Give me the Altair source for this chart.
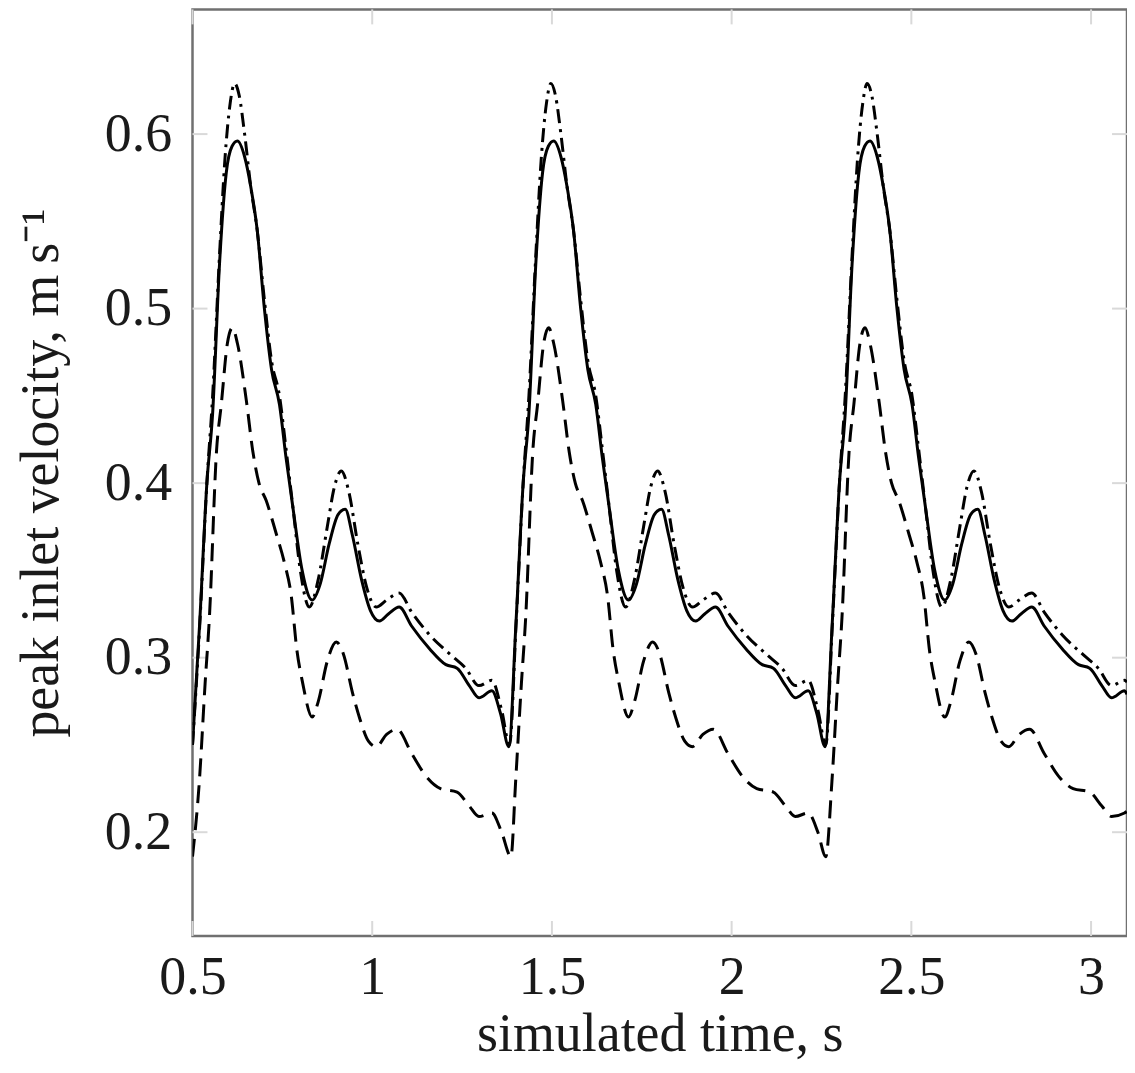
import altair as alt
import pandas as pd

# ---- data ----
solid_t = [0.500, 0.520, 0.540, 0.556, 0.575, 0.594, 0.610, 0.625, 0.645, 0.662, 0.680, 0.700,
           0.720, 0.742, 0.760, 0.780, 0.805, 0.833, 0.855, 0.880, 0.905, 0.925, 0.945, 0.970,
           0.995, 1.020, 1.045, 1.075, 1.110, 1.160, 1.205, 1.236, 1.270, 1.297, 1.333, 1.357,
           1.380, 1.400, 1.420, 1.436, 1.455, 1.474, 1.490, 1.505, 1.525, 1.542, 1.560, 1.580,
           1.600, 1.622, 1.640, 1.660, 1.685, 1.713, 1.735, 1.760, 1.785, 1.805, 1.825, 1.850,
           1.875, 1.900, 1.925, 1.955, 1.990, 2.040, 2.085, 2.116, 2.150, 2.177, 2.213, 2.237,
           2.260, 2.280, 2.300, 2.316, 2.335, 2.354, 2.370, 2.385, 2.405, 2.422, 2.440, 2.460,
           2.480, 2.502, 2.520, 2.540, 2.565, 2.593, 2.615, 2.640, 2.665, 2.685, 2.705, 2.730,
           2.755, 2.780, 2.805, 2.835, 2.870, 2.920, 2.965, 2.996, 3.030, 3.057, 3.093, 3.100]
solid_v = [0.250, 0.320, 0.400, 0.440, 0.525, 0.578, 0.593, 0.596, 0.587, 0.570, 0.545, 0.500,
           0.465, 0.445, 0.415, 0.385, 0.350, 0.333, 0.342, 0.365, 0.382, 0.385, 0.370, 0.345,
           0.327, 0.321, 0.325, 0.329, 0.318, 0.305, 0.296, 0.294, 0.284, 0.277, 0.281, 0.268,
           0.249, 0.320, 0.400, 0.440, 0.525, 0.578, 0.593, 0.596, 0.587, 0.570, 0.545, 0.500,
           0.465, 0.445, 0.415, 0.385, 0.350, 0.333, 0.342, 0.365, 0.382, 0.385, 0.370, 0.345,
           0.327, 0.321, 0.325, 0.329, 0.318, 0.305, 0.296, 0.294, 0.284, 0.277, 0.281, 0.268,
           0.249, 0.320, 0.400, 0.440, 0.525, 0.578, 0.593, 0.596, 0.587, 0.570, 0.545, 0.500,
           0.465, 0.445, 0.415, 0.385, 0.350, 0.333, 0.342, 0.365, 0.382, 0.385, 0.370, 0.345,
           0.327, 0.321, 0.325, 0.329, 0.318, 0.305, 0.296, 0.294, 0.284, 0.277, 0.281, 0.279]

dashdot_t = [0.500, 0.520, 0.540, 0.556, 0.575, 0.590, 0.605, 0.617, 0.630, 0.645, 0.662, 0.680,
             0.700, 0.720, 0.742, 0.760, 0.780, 0.800, 0.825, 0.850, 0.875, 0.895, 0.914, 0.935,
             0.960, 0.985, 1.011, 1.040, 1.075, 1.110, 1.160, 1.222, 1.260, 1.297, 1.333, 1.360,
             1.382, 1.400, 1.420, 1.436, 1.455, 1.470, 1.485, 1.497, 1.510, 1.525, 1.542, 1.560,
             1.580, 1.600, 1.622, 1.640, 1.660, 1.680, 1.705, 1.730, 1.755, 1.775, 1.794, 1.815,
             1.840, 1.865, 1.891, 1.920, 1.955, 1.990, 2.040, 2.102, 2.140, 2.177, 2.213, 2.240,
             2.262, 2.280, 2.300, 2.316, 2.335, 2.350, 2.365, 2.377, 2.390, 2.405, 2.422, 2.440,
             2.460, 2.480, 2.502, 2.520, 2.540, 2.560, 2.585, 2.610, 2.635, 2.655, 2.674, 2.695,
             2.720, 2.745, 2.771, 2.800, 2.835, 2.870, 2.920, 2.982, 3.020, 3.057, 3.093, 3.100]
dashdot_v = [0.250, 0.318, 0.400, 0.450, 0.530, 0.585, 0.618, 0.629, 0.622, 0.600, 0.570, 0.545,
             0.505, 0.470, 0.450, 0.420, 0.385, 0.350, 0.329, 0.345, 0.375, 0.398, 0.407, 0.395,
             0.365, 0.340, 0.329, 0.333, 0.337, 0.326, 0.313, 0.301, 0.294, 0.284, 0.287, 0.270,
             0.250, 0.318, 0.400, 0.450, 0.530, 0.585, 0.618, 0.629, 0.622, 0.600, 0.570, 0.545,
             0.505, 0.470, 0.450, 0.420, 0.385, 0.350, 0.329, 0.345, 0.375, 0.398, 0.407, 0.395,
             0.365, 0.340, 0.329, 0.333, 0.337, 0.326, 0.313, 0.301, 0.294, 0.284, 0.287, 0.270,
             0.250, 0.318, 0.400, 0.450, 0.530, 0.585, 0.618, 0.629, 0.622, 0.600, 0.570, 0.545,
             0.505, 0.470, 0.450, 0.420, 0.385, 0.350, 0.329, 0.345, 0.375, 0.398, 0.407, 0.395,
             0.365, 0.340, 0.329, 0.333, 0.337, 0.326, 0.313, 0.301, 0.294, 0.284, 0.287, 0.286]

dashed_t = [0.500, 0.519, 0.535, 0.547, 0.567, 0.580, 0.597, 0.611, 0.625, 0.650, 0.668, 0.685,
            0.705, 0.733, 0.755, 0.775, 0.790, 0.806, 0.833, 0.850, 0.875, 0.900, 0.920, 0.945,
            0.964, 0.990, 1.011, 1.040, 1.069, 1.110, 1.150, 1.190, 1.236, 1.270, 1.297, 1.333,
            1.360, 1.386, 1.399, 1.415, 1.427, 1.447, 1.460, 1.477, 1.491, 1.505, 1.530, 1.548,
            1.565, 1.585, 1.613, 1.635, 1.655, 1.670, 1.686, 1.713, 1.730, 1.755, 1.780, 1.800,
            1.825, 1.844, 1.870, 1.891, 1.920, 1.949, 1.990, 2.030, 2.070, 2.116, 2.150, 2.177,
            2.213, 2.240, 2.262, 2.279, 2.295, 2.307, 2.327, 2.340, 2.357, 2.371, 2.385, 2.410,
            2.428, 2.445, 2.465, 2.493, 2.515, 2.535, 2.550, 2.566, 2.593, 2.610, 2.635, 2.660,
            2.680, 2.705, 2.724, 2.750, 2.771, 2.800, 2.829, 2.870, 2.910, 2.950, 2.996, 3.030,
            3.057, 3.093, 3.100]
dashed_v = [0.186, 0.229, 0.285, 0.323, 0.419, 0.445, 0.480, 0.489, 0.480, 0.447, 0.418, 0.400,
            0.390, 0.371, 0.355, 0.335, 0.305, 0.286, 0.266, 0.275, 0.298, 0.309, 0.302, 0.280,
            0.266, 0.252, 0.249, 0.256, 0.259, 0.245, 0.232, 0.225, 0.223, 0.215, 0.209, 0.211,
            0.200, 0.186, 0.229, 0.285, 0.323, 0.419, 0.445, 0.480, 0.489, 0.480, 0.447, 0.418,
            0.400, 0.390, 0.371, 0.355, 0.335, 0.305, 0.286, 0.266, 0.275, 0.298, 0.309, 0.302,
            0.280, 0.266, 0.252, 0.249, 0.256, 0.259, 0.245, 0.232, 0.225, 0.223, 0.215, 0.209,
            0.211, 0.200, 0.186, 0.229, 0.285, 0.323, 0.419, 0.445, 0.480, 0.489, 0.480, 0.447,
            0.418, 0.400, 0.390, 0.371, 0.355, 0.335, 0.305, 0.286, 0.266, 0.275, 0.298, 0.309,
            0.302, 0.280, 0.266, 0.252, 0.249, 0.256, 0.259, 0.245, 0.232, 0.225, 0.223, 0.215,
            0.209, 0.211, 0.212]

x_ticks = [0.5, 1.0, 1.5, 2.0, 2.5, 3.0]
y_ticks = [0.2, 0.3, 0.4, 0.5, 0.6]

W, H = 937, 929
FONT = "Liberation Serif"

xs = alt.Scale(domain=[0.5, 3.1], nice=False, zero=False)
ys = alt.Scale(domain=[0.14057, 0.67143], nice=False, zero=False)

x_axis = alt.Axis(values=x_ticks, format="~g", grid=False, ticks=False, domain=False,
                  labelFont=FONT, labelFontSize=54, labelColor="#1a1a1a", labelPadding=15,
                  title="simulated time, s", titleFont=FONT, titleFontSize=54,
                  titleFontWeight="normal", titleColor="#1a1a1a",
                  titleBaseline="alphabetic", titleY=115, labelFlush=False)
y_axis = alt.Axis(values=y_ticks, format=".1f", grid=False, ticks=False, domain=False,
                  labelFont=FONT, labelFontSize=54, labelColor="#1a1a1a", labelPadding=21,
                  title="peak inlet velocity, m\u2009s\u207b\u00b9", titleFont=FONT,
                  titleFontSize=54, titleFontWeight="normal", titleColor="#1a1a1a",
                  titleAngle=270, titleBaseline="alphabetic", titleX=-135, titleY=H / 2,
                  labelFlush=False)

df_solid = pd.DataFrame({"t": solid_t, "v": solid_v})
df_dd = pd.DataFrame({"t": dashdot_t, "v": dashdot_v})
df_dash = pd.DataFrame({"t": dashed_t, "v": dashed_v})
df_xt = pd.DataFrame({"t": x_ticks})
df_yt = pd.DataFrame({"v": y_ticks})

tick_col = "#d9d9d9"
xt_bottom = alt.Chart(df_xt).mark_rule(color=tick_col, strokeWidth=2).encode(
    x=alt.X("t:Q", scale=xs, axis=x_axis), y=alt.value(H - 15), y2=alt.value(H))
xt_top = alt.Chart(df_xt).mark_rule(color=tick_col, strokeWidth=2).encode(
    x=alt.X("t:Q", scale=xs), y=alt.value(0), y2=alt.value(15))
yt_left = alt.Chart(df_yt).mark_rule(color=tick_col, strokeWidth=2).encode(
    y=alt.Y("v:Q", scale=ys, axis=y_axis), x=alt.value(0), x2=alt.value(15))
yt_right = alt.Chart(df_yt).mark_rule(color=tick_col, strokeWidth=2).encode(
    y=alt.Y("v:Q", scale=ys), x=alt.value(W - 15), x2=alt.value(W))


def line(df, dash):
    kw = dict(color="black", strokeWidth=3, interpolate="monotone", clip=True)
    if dash:
        kw["strokeDash"] = dash
    return alt.Chart(df).mark_line(**kw).encode(
        x=alt.X("t:Q", scale=xs), y=alt.Y("v:Q", scale=ys), order="t:Q")


chart = alt.layer(
    xt_bottom, xt_top, yt_left, yt_right,
    line(df_dash, [18, 9]),
    line(df_dd, [14, 6, 3, 6]),
    line(df_solid, None),
).properties(
    width=W, height=H,
    autosize=alt.AutoSizeParams(type="none"),
    padding={"left": 185, "top": 0, "right": 0, "bottom": 128},
    background="white",
).configure_view(stroke="#707070", strokeWidth=2.5)

chart.save("out.html", embed_options={"renderer": "svg", "actions": False})
